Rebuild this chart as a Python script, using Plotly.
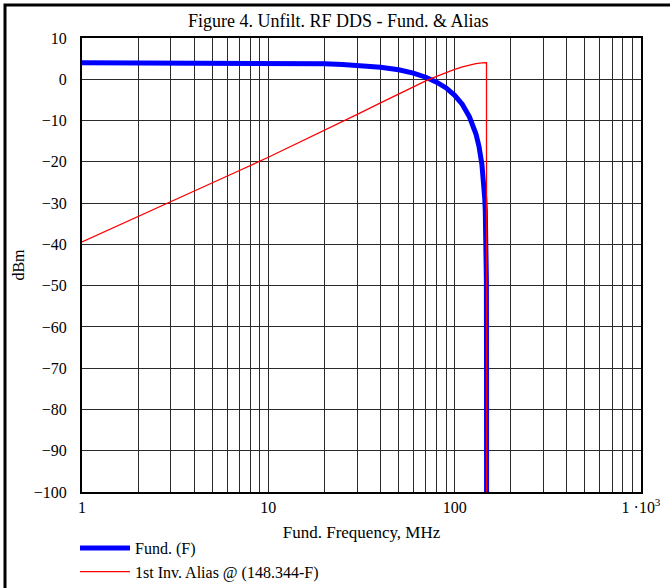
import plotly.graph_objects as go

# Fundamental (F) response, dBm
fund_freq = [1, 2, 3, 5, 7, 10, 15, 20, 25, 30, 40, 50, 60, 70, 80, 90, 100,
             110, 120, 130, 135, 140, 143, 145, 146, 147, 148, 148.25, 148.3]
fund_dbm = [4.0, 4.0, 4.0, 4.0, 3.95, 3.9, 3.85, 3.75, 3.6, 3.4, 2.9, 2.3, 1.5,
            0.5, -0.7, -2.1, -3.9, -6.1, -9.1, -13.2, -16.2, -20.6, -24.6,
            -28.8, -31.9, -36.8, -48.7, -70.0, -100.0]

# 1st inverted alias @ (148.344 - F), dBm
alias_freq = [1, 2, 3, 5, 7, 10, 15, 20, 30, 40, 50, 60, 70, 80, 90, 100,
              110, 120, 130, 140, 146, 148.2, 148.3]
alias_dbm = [-39.4, -33.3, -29.7, -25.2, -22.1, -18.9, -15.1, -12.4, -8.5,
             -5.7, -3.6, -1.8, -0.4, 0.7, 1.7, 2.4, 3.0, 3.5, 3.8, 3.95,
             4.0, 4.0, -100.0]

x_tickvals = [m * 10 ** d for d in range(3) for m in range(1, 10)] + [1000]
x_ticktext = [("1" if v == 1 else "10" if v == 10 else "100" if v == 100
               else "1 ·10<sup>3</sup>" if v == 1000 else "") for v in x_tickvals]
y_tickvals = list(range(-100, 11, 10))

FONT = "Liberation Serif"
L, R, T, B = 82, 641, 38, 492
W, H = 670, 588
pw, ph = R - L, B - T

fig = go.Figure()
fig.add_trace(go.Scatter(x=fund_freq, y=fund_dbm, mode="lines", name="Fund. (F)",
                         line=dict(color="#0000ff", width=5)))
fig.add_trace(go.Scatter(x=alias_freq, y=alias_dbm, mode="lines",
                         name="1st Inv. Alias @ (148.344-F)",
                         line=dict(color="#ff0000", width=1.3)))

fig.update_layout(
    width=W, height=H,
    margin=dict(l=L, r=W - R, t=T, b=H - B, autoexpand=False),
    paper_bgcolor="white", plot_bgcolor="white",
    font=dict(family=FONT, size=16, color="black"),
    title=dict(text="Figure 4. Unfilt. RF DDS - Fund. & Alias", x=0.505,
               xanchor="center", y=1 - 21 / H, yanchor="middle",
               font=dict(family=FONT, size=18, color="black")),
    showlegend=True,
    legend=dict(x=(75 - L) / pw, xanchor="left", y=(B - 531) / ph, yanchor="top",
                font=dict(family=FONT, size=16, color="black"),
                bgcolor="rgba(0,0,0,0)", tracegroupgap=0, itemwidth=50),
    xaxis=dict(type="log", range=[0, 3], tickvals=x_tickvals, ticktext=x_ticktext,
               showgrid=True, gridcolor="#2a2a2a", gridwidth=1, ticks="",
               showline=True, linecolor="black", linewidth=2, mirror=True,
               zeroline=False, tickangle=0, automargin=False,
               tickfont=dict(family=FONT, size=16),
               title=dict(text="Fund. Frequency, MHz", standoff=11,
                          font=dict(family=FONT, size=17))),
    yaxis=dict(range=[-100, 10], tickvals=y_tickvals, showgrid=True,
               gridcolor="#2a2a2a", gridwidth=1, ticks="", zeroline=False,
               showline=True, linecolor="black", linewidth=2, mirror=True,
               ticklabelstandoff=10, automargin=False,
               tickfont=dict(family=FONT, size=16),
               title=dict(text="dBm", standoff=5,
                          font=dict(family=FONT, size=16))),
    shapes=[dict(type="rect", xref="paper", yref="paper",
                 x0=(5 - L) / pw, x1=(700 - L) / pw,
                 y0=(B - 620) / ph, y1=(B - 5) / ph,
                 line=dict(color="black", width=3), layer="above")],
)

fig.write_html("out.html", config={"displayModeBar": False},
               post_script="document.body.style.margin='0';"
                           "document.body.style.overflow='hidden';")
